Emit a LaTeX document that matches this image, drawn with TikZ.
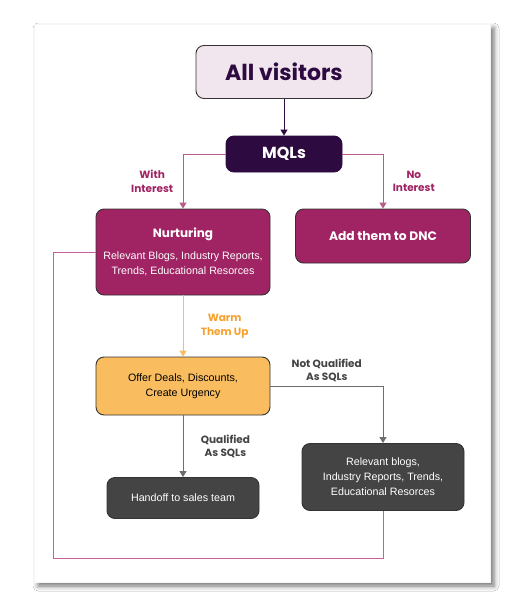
\documentclass[tikz,border=0pt]{standalone}
\usepackage{fontspec}
\setmainfont{Liberation Sans}
\newfontfamily\titre{Poppins}
\usetikzlibrary{arrows.meta,shadows.blur}
\definecolor{prune}{HTML}{2D0A40}
\definecolor{lilas}{HTML}{F2E6EE}
\definecolor{framboise}{HTML}{A02363}
\definecolor{rosepale}{HTML}{C4609C}
\definecolor{miel}{HTML}{F9BD5F}
\definecolor{ambre}{HTML}{F6A02E}
\definecolor{ardoise}{HTML}{444444}
\definecolor{gris}{HTML}{6E6E6E}

\begin{document}
\begin{tikzpicture}[x=1pt,y=-1pt,
  boite/.style={rounded corners=8pt,draw=black!80,line width=0.9pt,align=center,inner sep=0pt},
  fleche/.style={-{Triangle[width=7pt,length=6pt]},line width=1pt},
  etiquette/.style={font=\titre\fontsize{10.5}{13.5}\selectfont\bfseries,align=center}]
  \useasboundingbox (0,0) rectangle (525,606);
  \fill[white] (0,0) rectangle (525,606);
  \draw[
    fill=white,
    draw=black!4,
    blur shadow={shadow xshift=4pt,shadow yshift=-4pt,shadow blur radius=5pt,shadow opacity=55}]
    (34,24) rectangle (490,582);

  \coordinate (V) at (284,72);
  \coordinate (M) at (284,154);
  \coordinate (N) at (183,252);
  \coordinate (D) at (383,236);
  \coordinate (O) at (183,386);
  \coordinate (H) at (183,498);
  \coordinate (B) at (383,477);
  \coordinate (L) at (53,558);

  \node[
    boite,
    fill=lilas,
    minimum width=176pt,
    minimum height=53pt,
    text=prune,
    font=\titre\fontsize{22}{26}\selectfont\bfseries] at (V) (visitors) {All visitors};
  \node[
    boite,
    fill=prune,
    draw=prune,
    minimum width=116pt,
    minimum height=36pt,
    text=white,
    font=\titre\fontsize{16}{18}\selectfont\bfseries] at (M) (mqls) {MQLs};
  \node[
    boite,
    fill=framboise,
    minimum width=174pt,
    minimum height=86pt,
    text=white,
    font=\fontsize{10.7}{15}\selectfont] at (N) (nurt) {{\titre\bfseries\fontsize{12}{14}\selectfont Nurturing}\\[7pt]
    Relevant Blogs, Industry Reports,\\Trends, Educational Resorces};
  \node[
    boite,
    fill=framboise,
    minimum width=175pt,
    minimum height=54pt,
    text=white,
    font=\titre\fontsize{12.3}{14}\selectfont\bfseries] at (D) (dnc) {Add them to DNC};
  \node[
    boite,
    fill=miel,
    minimum width=174pt,
    minimum height=58pt,
    text=black,
    font=\fontsize{10.7}{15}\selectfont] at (O) (offer) {Offer Deals, Discounts,\\Create Urgency};
  \node[
    boite,
    fill=ardoise,
    minimum width=152pt,
    minimum height=41pt,
    text=white,
    font=\fontsize{10.7}{15}\selectfont] at (H) (handoff) {Handoff to sales team};
  \node[
    boite,
    fill=ardoise,
    minimum width=162pt,
    minimum height=67pt,
    text=white,
    font=\fontsize{10.7}{15}\selectfont] at (B) (blogs) {Relevant blogs,\\Industry Reports, Trends,\\Educational Resorces};

  \draw[fleche,prune] (visitors) -- (mqls);
  \draw[fleche,framboise!75] (mqls.west) -| node[etiquette,framboise,pos=0.75,left,xshift=-6pt] {With\\Interest} (nurt.north);
  \draw[fleche,framboise!75] (mqls.east) -| node[etiquette,framboise,pos=0.75,right,xshift=6pt] {No\\Interest} (dnc.north);
  \draw[fleche,miel] (nurt) -- node[etiquette,ambre,right,xshift=14pt] {Warm\\Them Up} (offer);
  \draw[fleche,gris] (offer.east) -| node[etiquette,ardoise,pos=0.25,above] {Not Qualified\\As SQLs} (blogs.north);
  \draw[fleche,gris] (offer) -- node[etiquette,ardoise,right,xshift=14pt] {Qualified\\As SQLs} (handoff);
  \draw[rosepale,line width=1pt] (nurt.west) -| (L) -| (blogs.south);

\end{tikzpicture}
\end{document}
